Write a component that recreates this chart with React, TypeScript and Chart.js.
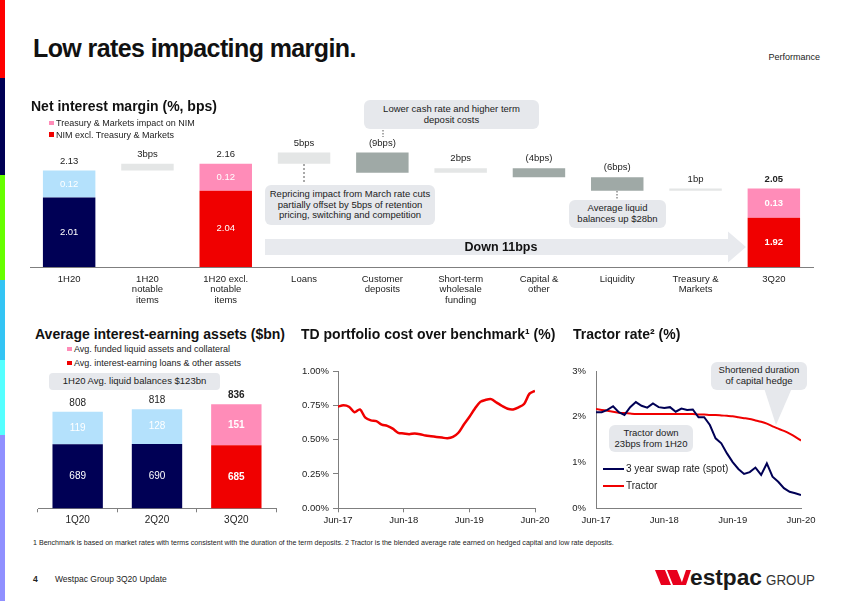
import React, { useEffect, useRef } from "react";
import { Chart, registerables } from "chart.js";

Chart.register(...registerables);

const FONT = '"Liberation Sans", Arial, Helvetica, sans-serif';
Chart.defaults.font.family = FONT;
Chart.defaults.color = "#222";

// ---------- Net interest margin (%, bps) ----------
const nimCategories = [
  ["1H20"],
  ["1H20", "notable", "items"],
  ["1H20 excl.", "notable", "items"],
  ["Loans"],
  ["Customer", "deposits"],
  ["Short-term", "wholesale", "funding"],
  ["Capital &", "other"],
  ["Liquidity"],
  ["Treasury &", "Markets"],
  ["3Q20"],
];
const nimExTreasury = [2.01, null, 2.04, null, null, null, null, null, null, 1.92];
const nimTreasury = [0.12, null, 0.12, null, null, null, null, null, null, 0.13];
const nimTotals = [2.13, null, 2.16, null, null, null, null, null, null, 2.05];
const nimMovesBps = [null, 3, null, 5, -9, 2, -4, -6, 1, null];
const nimMoveLabels = [null, "3bps", null, "5bps", "(9bps)", "2bps", "(4bps)", "(6bps)", "1bp", null];
const nimAxisMin = 1.7;
const nimAxisMax = 2.48;

// ---------- Average interest-earning assets ($bn) ----------
const aieaCategories = ["1Q20", "2Q20", "3Q20"];
const aieaLoans = [689, 690, 685];
const aieaLiquid = [119, 128, 151];
const aieaTotals = [808, 818, 836];
const aieaAxisMin = 453;
const aieaAxisMax = 870;

// ---------- TD portfolio cost over benchmark (%) ----------
const months = [
  "Jun-17", "Jul-17", "Aug-17", "Sep-17", "Oct-17", "Nov-17", "Dec-17",
  "Jan-18", "Feb-18", "Mar-18", "Apr-18", "May-18", "Jun-18", "Jul-18", "Aug-18", "Sep-18", "Oct-18", "Nov-18", "Dec-18",
  "Jan-19", "Feb-19", "Mar-19", "Apr-19", "May-19", "Jun-19", "Jul-19", "Aug-19", "Sep-19", "Oct-19", "Nov-19", "Dec-19",
  "Jan-20", "Feb-20", "Mar-20", "Apr-20", "May-20", "Jun-20",
];
const tdSpread = [
  0.74, 0.75, 0.74, 0.70, 0.72, 0.66, 0.64,
  0.635, 0.61, 0.60, 0.58, 0.55, 0.545, 0.54, 0.545, 0.54, 0.53, 0.525, 0.52,
  0.515, 0.51, 0.52, 0.55, 0.61, 0.665, 0.725, 0.775, 0.79, 0.795, 0.77, 0.745,
  0.725, 0.72, 0.735, 0.76, 0.835, 0.855,
];
const tdTicks = ["0.00%", "0.25%", "0.50%", "0.75%", "1.00%"];

// ---------- Tractor rate (%) ----------
const swapRate = [
  2.10, 2.10, 2.15, 2.23, 2.10, 2.04, 2.21,
  2.32, 2.24, 2.20, 2.29, 2.21, 2.19, 2.21, 2.11, 2.18, 2.15, 2.16, 1.99,
  1.99, 1.82, 1.53, 1.42, 1.20, 1.01, 0.86, 0.75, 0.79, 0.89, 0.73, 0.98,
  0.69, 0.58, 0.44, 0.36, 0.33, 0.29,
];
const tractorRate = [
  2.17, 2.15, 2.13, 2.11, 2.09, 2.08, 2.07,
  2.06, 2.06, 2.06, 2.06, 2.06, 2.06, 2.06, 2.06, 2.06, 2.06, 2.06, 2.05,
  2.05, 2.04, 2.04, 2.03, 2.02, 2.01, 1.99, 1.97, 1.95, 1.92, 1.89, 1.85,
  1.79, 1.74, 1.69, 1.63, 1.56, 1.48,
];

const NAVY = "#000055";
const LBLUE = "#b4e1fc";
const RED = "#f00000";
const PINK = "#ff8cb8";
const GREY_UP = "#e4e6e6";
const GREY_DOWN = "#9fa9a6";
const BOXBG = "#e6e8ec";
const AXIS = "#7f7f7f";

const labelPlugin = {
  id: "valueLabels",
  afterDatasetsDraw(chart: any) {
    const ctx = chart.ctx;
    const area = chart.chartArea;
    chart.data.datasets.forEach((ds: any, di: number) => {
      const meta = chart.getDatasetMeta(di);
      meta.data.forEach((el: any, i: number) => {
        const p = el.getProps(["x", "y", "base"], true);
        if (!isFinite(p.y) || !isFinite(p.base)) return;
        const top = Math.min(p.y, p.base);
        const bottom = Math.min(Math.max(p.y, p.base), area.bottom);
        const draw = (txt: string, y: number, color: string, bold: boolean, size: number) => {
          ctx.save();
          ctx.font = `${bold ? "bold " : ""}${size}px ${FONT}`;
          ctx.fillStyle = color;
          ctx.textAlign = "center";
          ctx.textBaseline = "middle";
          ctx.fillText(txt, p.x, y);
          ctx.restore();
        };
        if (ds.inLabels && ds.inLabels[i] != null) {
          draw(ds.inLabels[i], (top + bottom) / 2, ds.inColor || "#fff", !!(ds.boldIdx && ds.boldIdx.includes(i)), ds.inSize || 9.5);
        }
        if (ds.topLabels && ds.topLabels[i] != null) {
          draw(ds.topLabels[i], top - (ds.topGap || 9), ds.topColor || "#222", !!(ds.boldIdx && ds.boldIdx.includes(i)), ds.topSize || 9.5);
        }
      });
    });
  },
};

function nimConfig(): any {
  let level = nimTotals[0] as number;
  const moves = nimMovesBps.map((m) => {
    if (m == null) return null;
    const from = level;
    const to = Math.round((level + m / 100) * 100) / 100;
    level = to;
    return [from, to];
  });
  const topSeg = nimExTreasury.map((v, i) => (v == null ? null : [v, Math.round((v + (nimTreasury[i] as number)) * 100) / 100]));
  return {
    type: "bar",
    data: {
      labels: nimCategories,
      datasets: [
        {
          data: nimExTreasury,
          backgroundColor: nimExTreasury.map((_, i) => (i === 0 ? NAVY : RED)),
          grouped: false,
          inLabels: nimExTreasury.map((v) => (v == null ? null : v.toFixed(2))),
          boldIdx: [9],
        },
        {
          data: topSeg,
          backgroundColor: nimTreasury.map((_, i) => (i === 0 ? LBLUE : PINK)),
          grouped: false,
          inLabels: nimTreasury.map((v) => (v == null ? null : v.toFixed(2))),
          topLabels: nimTotals.map((v) => (v == null ? null : v.toFixed(2))),
          topGap: 9,
          boldIdx: [9],
        },
        {
          data: moves,
          backgroundColor: nimMovesBps.map((m) => (m != null && m < 0 ? GREY_DOWN : GREY_UP)),
          grouped: false,
          topLabels: nimMoveLabels,
          topGap: 9.5,
        },
      ],
    },
    options: {
      responsive: false,
      animation: false,
      layout: { padding: { left: 30, right: 37, top: 0, bottom: 0 } },
      plugins: { legend: { display: false }, tooltip: { enabled: false } },
      datasets: { bar: { barPercentage: 0.67, categoryPercentage: 1 } },
      scales: {
        x: {
          grid: { display: false, drawTicks: false },
          border: { display: true, color: AXIS, width: 1 },
          ticks: { font: { size: 9.5, lineHeight: 1.1 }, color: "#222", padding: 7, maxRotation: 0, autoSkip: false },
          afterFit: (s: any) => { s.height = 43; },
        },
        y: { display: false, min: nimAxisMin, max: nimAxisMax },
      },
    },
    plugins: [labelPlugin],
  };
}

function aieaConfig(): any {
  return {
    type: "bar",
    data: {
      labels: aieaCategories,
      datasets: [
        {
          data: aieaLoans,
          backgroundColor: aieaLoans.map((_, i) => (i === 2 ? RED : NAVY)),
          inLabels: aieaLoans.map((v) => String(v)),
          inSize: 10,
          boldIdx: [2],
        },
        {
          data: aieaLiquid,
          backgroundColor: aieaLiquid.map((_, i) => (i === 2 ? PINK : LBLUE)),
          inLabels: aieaLiquid.map((v) => String(v)),
          inSize: 10,
          topLabels: aieaTotals.map((v) => String(v)),
          topSize: 10,
          topGap: 9,
          boldIdx: [2],
        },
      ],
    },
    options: {
      responsive: false,
      animation: false,
      layout: { padding: { left: 38, right: 14, top: 5, bottom: 0 } },
      plugins: { legend: { display: false }, tooltip: { enabled: false } },
      datasets: { bar: { barPercentage: 0.635, categoryPercentage: 1 } },
      scales: {
        x: {
          stacked: true,
          grid: { display: true, drawOnChartArea: false, drawTicks: true, tickLength: 4, color: AXIS },
          border: { display: true, color: AXIS },
          ticks: { font: { size: 10, lineHeight: 1.15 }, color: "#222", padding: 2, maxRotation: 0 },
          afterFit: (s: any) => { s.height = 21.7; },
        },
        y: { stacked: true, display: false, min: aieaAxisMin, max: aieaAxisMax },
      },
    },
    plugins: [labelPlugin],
  };
}

function tdConfig(): any {
  return {
    type: "line",
    data: {
      datasets: [
        {
          data: tdSpread.map((v, i) => ({ x: i, y: v })),
          borderColor: RED,
          borderWidth: 2.5,
          pointRadius: 0,
          tension: 0.3,
        },
      ],
    },
    options: {
      responsive: false,
      animation: false,
      layout: { padding: { left: 0, right: 35, top: 11, bottom: 0 } },
      plugins: { legend: { display: false }, tooltip: { enabled: false } },
      scales: {
        x: {
          type: "linear",
          min: 0,
          max: months.length - 1,
          grid: { display: true, drawOnChartArea: false, drawTicks: true, tickLength: 4, color: AXIS },
          border: { display: true, color: AXIS },
          ticks: {
            stepSize: 12,
            padding: 2,
            font: { size: 9.5 },
            color: "#222",
            maxRotation: 0,
            autoSkip: false,
            callback: (v: number) => months[v],
          },
          afterFit: (s: any) => { s.height = 21.7; },
        },
        y: {
          min: 0,
          max: 1,
          grid: { display: true, drawOnChartArea: false, drawTicks: true, tickLength: 5, color: AXIS },
          border: { display: true, color: AXIS },
          ticks: {
            stepSize: 0.25,
            padding: 4,
            font: { size: 9.5 },
            color: "#222",
            callback: (v: number) => tdTicks[Math.round(v * 4)],
          },
          afterFit: (s: any) => { s.width = 58; },
        },
      },
    },
  };
}

function tractorConfig(): any {
  return {
    type: "line",
    data: {
      datasets: [
        {
          label: "3 year swap rate (spot)",
          data: swapRate.map((v, i) => ({ x: i, y: v })),
          borderColor: NAVY,
          borderWidth: 2,
          pointRadius: 0,
          tension: 0,
        },
        {
          label: "Tractor",
          data: tractorRate.map((v, i) => ({ x: i, y: v })),
          borderColor: RED,
          borderWidth: 2,
          pointRadius: 0,
          tension: 0.2,
        },
      ],
    },
    options: {
      responsive: false,
      animation: false,
      layout: { padding: { left: 0, right: 34, top: 11, bottom: 0 } },
      plugins: { legend: { display: false }, tooltip: { enabled: false } },
      scales: {
        x: {
          type: "linear",
          min: 0,
          max: months.length - 1,
          grid: { display: false, drawTicks: true, tickLength: 4 },
          border: { display: true, color: AXIS },
          ticks: {
            stepSize: 12,
            padding: 2,
            font: { size: 9.5 },
            color: "#222",
            maxRotation: 0,
            autoSkip: false,
            callback: (v: number) => months[v],
          },
          afterFit: (s: any) => { s.height = 21.7; },
        },
        y: {
          min: 0,
          max: 3,
          grid: { display: false, drawTicks: true, tickLength: 6 },
          border: { display: true, color: AXIS },
          ticks: { stepSize: 1, padding: 4, font: { size: 9.5 }, color: "#222", callback: (v: number) => v + "%" },
          afterFit: (s: any) => { s.width = 51; },
        },
      },
    },
  };
}

function ChartCanvas({ left, top, width, height, make }: any) {
  const ref = useRef<HTMLCanvasElement | null>(null);
  useEffect(() => {
    const chart = new Chart(ref.current as HTMLCanvasElement, make());
    return () => chart.destroy();
  }, []);
  return (
    <canvas
      ref={ref}
      width={width}
      height={height}
      style={{ position: "absolute", left, top, width, height }}
    />
  );
}

function T({ x, y, size = 9.5, bold = false, align = "left", color = "#222", lh = 1.15, ls, children }: any) {
  const tx = align === "center" ? "-50%" : align === "right" ? "-100%" : "0";
  return (
    <div
      style={{
        position: "absolute",
        left: x,
        top: y,
        transform: `translate(${tx},-50%)`,
        fontSize: size,
        fontWeight: bold ? 700 : 400,
        color,
        lineHeight: lh,
        whiteSpace: "nowrap",
        textAlign: align,
        letterSpacing: ls,
      }}
    >
      {children}
    </div>
  );
}

function Box({ x, y, w, h, r = 6, size = 9.5, lh = 10.8, children }: any) {
  return (
    <div
      style={{
        position: "absolute",
        left: x,
        top: y,
        width: w,
        height: h,
        borderRadius: r,
        background: BOXBG,
        display: "flex",
        alignItems: "center",
        justifyContent: "center",
        textAlign: "center",
        fontSize: size,
        lineHeight: lh + "px",
        color: "#222",
        whiteSpace: "nowrap",
      }}
    >
      <div>{children}</div>
    </div>
  );
}

function Sq({ x, y, color }: any) {
  return <div style={{ position: "absolute", left: x, top: y, width: 4.5, height: 4.5, background: color }} />;
}

export default function App() {
  return (
    <div
      style={{
        position: "fixed",
        left: 0,
        top: 0,
        width: 850,
        height: 601,
        background: "#fff",
        overflow: "hidden",
        fontFamily: FONT,
        color: "#222",
      }}
    >
      <svg width={850} height={601} style={{ position: "absolute", left: 0, top: 0 }}>
        {/* left colour stripe */}
        <rect x={0} y={0} width={5} height={78} fill="#ff0000" />
        <rect x={0} y={78} width={5} height={97} fill="#000055" />
        <rect x={0} y={175} width={5} height={105} fill="#66ff00" />
        <rect x={0} y={280} width={5} height={80} fill="#33c4f4" />
        <rect x={0} y={360} width={5} height={75} fill="#55ffff" />
        <rect x={0} y={435} width={5} height={166} fill="#9090ff" />
        {/* Down 11bps arrow */}
        <polygon points="265,239 728,239 728,231.5 746,247 728,262.5 728,255 265,255" fill="#e8eaee" />
        {/* connectors */}
        <line x1={383} y1={130} x2={383} y2={137} stroke="#555" strokeWidth={1} strokeDasharray="1.5 1.5" />
        <line x1={304} y1={164} x2={304} y2={184} stroke="#555" strokeWidth={1} strokeDasharray="2 2" />
        <line x1={617} y1={191} x2={617} y2={199} stroke="#555" strokeWidth={1} strokeDasharray="1.5 1.5" />
        {/* tractor callout pointer */}
        <polygon points="764,388 792,388 776,425" fill={BOXBG} />
        {/* tractor legend samples */}
        <line x1={603} y1={469} x2={624} y2={469} stroke={NAVY} strokeWidth={2} />
        <line x1={603} y1={486} x2={624} y2={486} stroke={RED} strokeWidth={2} />
        {/* logo */}
        <g fill="#e8001c">
          <polygon points="655,570 665,570 671,585 661,585" />
          <polygon points="667,570 677,570 683,585 673,585" />
          <polygon points="681,585 686,570 691,570 686,585" />
        </g>
        <text x={690} y={585} fontFamily={FONT} fontWeight={700} fontSize={22} fill="#1a1a1a" textLength={72} lengthAdjust="spacingAndGlyphs">
          estpac
        </text>
        <text x={766} y={585} fontFamily={FONT} fontSize={14} fill="#333" textLength={49} lengthAdjust="spacingAndGlyphs">
          GROUP
        </text>
      </svg>

      <ChartCanvas left={0} top={92} width={850} height={218} make={nimConfig} />
      <ChartCanvas left={0} top={390} width={290} height={140} make={aieaConfig} />
      <ChartCanvas left={280} top={360} width={290} height={170} make={tdConfig} />
      <ChartCanvas left={545} top={360} width={290} height={170} make={tractorConfig} />

      {/* header */}
      <T x={33} y={48} size={25} bold ls={-0.6} color="#111">Low rates impacting margin.</T>
      <T x={820} y={57} size={9} align="right" color="#222">Performance</T>

      {/* NIM */}
      <T x={31} y={106} size={14} bold color="#111">Net interest margin (%, bps)</T>
      <Sq x={49} y={120.5} color={PINK} />
      <T x={56} y={123} size={9}>Treasury &amp; Markets impact on NIM</T>
      <Sq x={49} y={132} color={RED} />
      <T x={56} y={134.5} size={9}>NIM excl. Treasury &amp; Markets</T>
      <Box x={364} y={100} w={175} h={29}>Lower cash rate and higher term<br />deposit costs</Box>
      <Box x={265} y={185} w={170} h={40}>Repricing impact from March rate cuts<br />partially offset by 5bps of retention<br />pricing, switching and competition</Box>
      <Box x={569} y={200} w={97} h={28}>Average liquid<br />balances up $28bn</Box>
      <T x={501} y={247} size={12.5} bold align="center" color="#111">Down 11bps</T>

      {/* AIEA */}
      <T x={35} y={334} size={14} bold color="#111">Average interest-earning assets ($bn)</T>
      <Sq x={67} y={346.5} color={PINK} />
      <T x={74} y={349} size={9}>Avg. funded liquid assets and collateral</T>
      <Sq x={67} y={360.5} color={RED} />
      <T x={74} y={362.7} size={9}>Avg. interest-earning loans &amp; other assets</T>
      <Box x={49} y={373} w={171} h={17} r={4}>1H20 Avg. liquid balances $123bn</Box>

      {/* TD */}
      <T x={301} y={334} size={14} bold color="#111">TD portfolio cost over benchmark¹ (%)</T>

      {/* Tractor */}
      <T x={573} y={334} size={14} bold color="#111">Tractor rate² (%)</T>
      <Box x={711} y={362} w={96} h={28}>Shortened duration<br />of capital hedge</Box>
      <Box x={609} y={425} w={84} h={27}>Tractor down<br />23bps from 1H20</Box>
      <T x={626} y={469} size={10}>3 year swap rate (spot)</T>
      <T x={626} y={486} size={10}>Tractor</T>

      {/* footer */}
      <T x={33} y={543} size={7.1}>1 Benchmark is based on market rates with terms consistent with the duration of the term deposits. 2 Tractor is the blended average rate earned on hedged capital and low rate deposits.</T>
      <T x={33} y={580} size={8.5} bold>4</T>
      <T x={55} y={580} size={8.5}>Westpac Group 3Q20 Update</T>
    </div>
  );
}
